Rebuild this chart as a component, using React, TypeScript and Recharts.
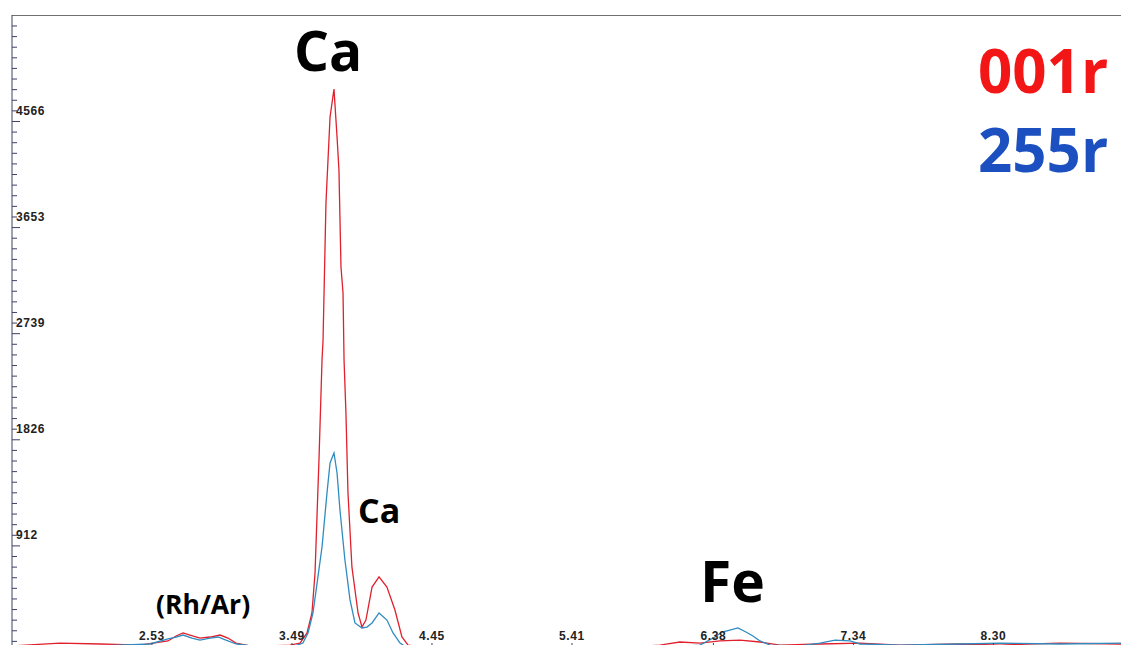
import { LineChart, Line, XAxis, YAxis } from "recharts";

// energy (keV) / counts
const redEnergy = [1.57, 1.899, 2.173, 2.448, 2.64, 2.695, 2.743, 2.791, 2.859, 2.928, 2.997, 3.051, 3.106, 3.202, 3.339, 3.476, 3.545, 3.593, 3.627, 3.648, 3.675, 3.696, 3.703, 3.723, 3.751, 3.778, 3.799, 3.812, 3.826, 3.84, 3.847, 3.86, 3.874, 3.901, 3.943, 3.97, 3.997, 4.039, 4.087, 4.141, 4.196, 4.244, 4.286, 4.436, 4.916, 5.328, 5.739, 6.014, 6.151, 6.288, 6.425, 6.562, 6.699, 6.836, 7.111, 7.385, 7.659, 8.071, 8.345, 8.756, 9.175];
const redCounts = [52, 77, 69, 60, 95, 138, 164, 146, 120, 129, 146, 120, 77, 52, 52, 60, 77, 164, 336, 680, 1653, 2513, 2685, 3865, 4605, 4846, 4433, 4149, 3314, 3090, 2513, 2057, 1369, 732, 336, 215, 275, 559, 646, 559, 361, 129, 60, 34, 34, 34, 34, 60, 86, 77, 95, 103, 86, 60, 69, 77, 60, 69, 60, 77, 69];

const blueEnergy = [1.57, 2.173, 2.516, 2.64, 2.695, 2.743, 2.804, 2.859, 2.928, 2.983, 3.037, 3.106, 3.271, 3.511, 3.565, 3.6, 3.634, 3.668, 3.696, 3.73, 3.751, 3.778, 3.799, 3.819, 3.853, 3.888, 3.922, 3.97, 4.004, 4.039, 4.087, 4.141, 4.183, 4.231, 4.272, 4.916, 6.014, 6.288, 6.391, 6.439, 6.493, 6.548, 6.603, 6.651, 6.699, 6.768, 6.973, 7.111, 7.214, 7.316, 7.385, 7.659, 8.071, 8.345, 8.756, 9.175];
const blueCounts = [43, 52, 69, 112, 129, 146, 120, 103, 120, 129, 103, 69, 43, 52, 77, 164, 336, 646, 904, 1369, 1627, 1713, 1541, 1222, 792, 448, 250, 207, 215, 250, 336, 275, 164, 77, 43, 26, 34, 60, 129, 172, 189, 207, 172, 138, 95, 60, 52, 77, 103, 95, 69, 60, 69, 77, 69, 77];

const xTicks = [2.53, 3.49, 4.45, 5.41, 6.38, 7.34, 8.3];
const yTickLabels = ["912", "1826", "2739", "3653", "4566"];
const yStep = 91.33;
const yMinorTicks = Array.from({ length: 60 }, (_, i) => i * yStep);

const redData = redEnergy.map((e, i) => ({ e, v: redCounts[i] }));
const blueData = blueEnergy.map((e, i) => ({ e, v: blueCounts[i] }));

const axisColor = "#3c4066";
const tickFont = "'Liberation Sans', Arial, sans-serif";
const bigFont = "'Open Sans', 'Noto Sans', sans-serif";

const YTick = (props: any) => {
  const { y, index } = props;
  const major = index > 0 && index % 10 === 0;
  const labelIdx = index % 10 === 1 ? (index - 1) / 10 - 1 : -1;
  return (
    <g>
      <line x1={12} x2={major ? 20 : 17} y1={y} y2={y} stroke={axisColor} strokeWidth={1} />
      {labelIdx >= 0 && labelIdx < yTickLabels.length && (
        <text x={16} y={y + 4} fontSize={12} letterSpacing={0.6} fontWeight={700} fontFamily={tickFont} fill="#222">
          {yTickLabels[labelIdx]}
        </text>
      )}
    </g>
  );
};

const XTick = (props: any) => {
  const { x, payload } = props;
  return (
    <g>
      <text x={x} y={640} textAnchor="middle" fontSize={12} letterSpacing={0.6} fontWeight={700} fontFamily={tickFont} fill="#222">
        {Number(payload.value).toFixed(2)}
      </text>
      <line x1={x} x2={x} y1={643} y2={652} stroke={axisColor} strokeWidth={1} />
    </g>
  );
};

const label = (text: string, left: number, top: number, size: number, color = "#000") => (
  <div
    style={{
      position: "absolute",
      left,
      top,
      fontFamily: bigFont,
      fontWeight: 700,
      fontSize: size,
      lineHeight: 1,
      color,
      whiteSpace: "nowrap",
    }}
  >
    {text}
  </div>
);

export default function App() {
  return (
    <div style={{ position: "fixed", left: 0, top: 0, width: 1121, height: 645, overflow: "hidden", background: "#fff" }}>
      <div style={{ position: "absolute", left: 12, right: 0, top: 15, height: 1, background: "#707070" }} />
      <LineChart width={1121} height={660} margin={{ top: 15, right: 0, left: 0, bottom: 0 }}>
        <XAxis
          type="number"
          dataKey="e"
          domain={[1.57, 9.175]}
          allowDataOverflow
          ticks={xTicks}
          interval={0}
          height={8}
          axisLine={false}
          tickLine={false}
          tick={<XTick />}
        />
        <YAxis
          type="number"
          domain={[0, 5483]}
          allowDataOverflow
          ticks={yMinorTicks}
          interval={0}
          width={12}
          axisLine={{ stroke: axisColor }}
          tickLine={false}
          tick={<YTick />}
        />
        <Line data={redData} dataKey="v" type="linear" stroke="#e0202c" strokeWidth={1.3} dot={false} isAnimationActive={false} />
        <Line data={blueData} dataKey="v" type="linear" stroke="#2f8bc0" strokeWidth={1.3} dot={false} isAnimationActive={false} />
      </LineChart>
      {label("Ca", 294, 22, 55)}
      {label("Ca", 358, 493, 34)}
      {label("(Rh/Ar)", 156, 591, 26.5)}
      {label("Fe", 700, 552, 57)}
      {label("001r", 978, 40, 60, "#f21616")}
      {label("255r", 978, 119, 60, "#1c4fbf")}
    </div>
  );
}
